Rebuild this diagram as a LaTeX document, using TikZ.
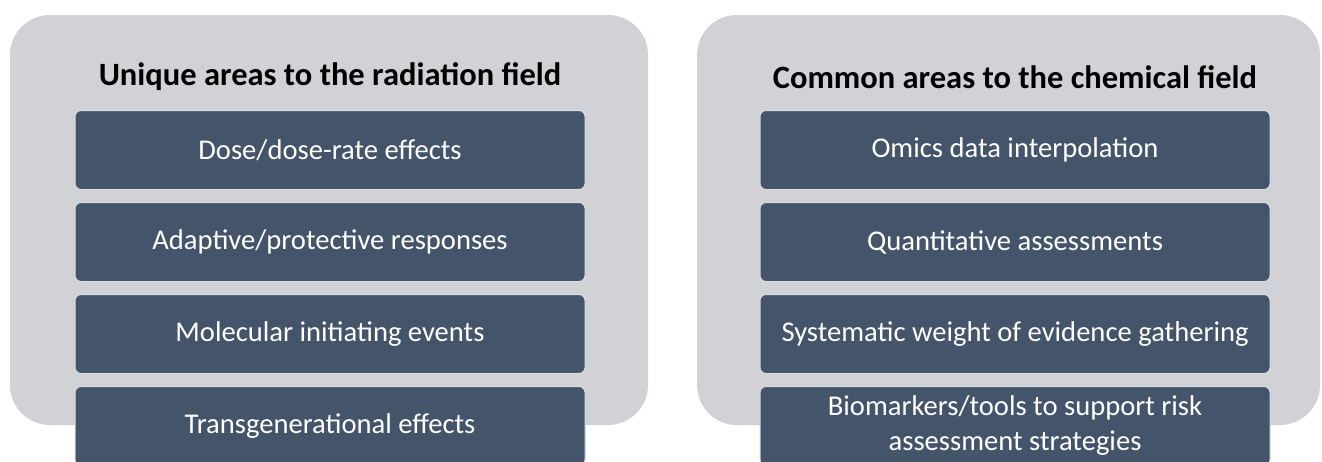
\documentclass[tikz,border=0pt]{standalone}
\usepackage{fontspec}
\setmainfont{Carlito}
\definecolor{panelgray}{RGB}{208,210,214}
\definecolor{itemblue}{RGB}{68,84,106}

\begin{document}
\begin{tikzpicture}[
    x=1pt, y=-1pt,
    panel/.style={fill=panelgray, rounded corners=40pt},
    ttl/.style={font=\fontsize{32.5}{38}\selectfont\bfseries, black},
    item/.style={fill=itemblue, draw=white!80!itemblue, line width=1pt,
        rounded corners=6pt, minimum width=510pt, minimum height=79pt,
        inner sep=0pt, align=center, text=white,
        font=\fontsize{28.6}{35}\selectfont},
  ]
  \fill[white] (0,0) rectangle (1322,461);
  \useasboundingbox (0,0) rectangle (1322,461);

  \fill[panel] (10,15) rectangle (648,425);
  \fill[panel] (697,15) rectangle (1320,425);

  \node[ttl] (tl) at (330,77) {Unique areas to the radiation field};
  \node[item] (l0) at (330,150) {Dose/dose-rate effects};
  \node[item] (l1) at (330,242) {Adaptive/protective responses};
  \node[item] (l2) at (330,334) {Molecular initiating events};
  \node[item] (l3) at (330,426) {Transgenerational effects};

  \node[ttl] (tr) at (1015,77) {Common areas to the chemical field};
  \node[item] (r0) at (1015,150) {Omics data interpolation};
  \node[item] (r1) at (1015,242) {Quantitative assessments};
  \node[item] (r2) at (1015,334) {Systematic weight of evidence gathering};
  \node[item] (r3) at (1015,426) {\raisebox{-2pt}{Biomarkers/tools to support risk}\\\raisebox{-2pt}{assessment strategies}};

\end{tikzpicture}
\end{document}
